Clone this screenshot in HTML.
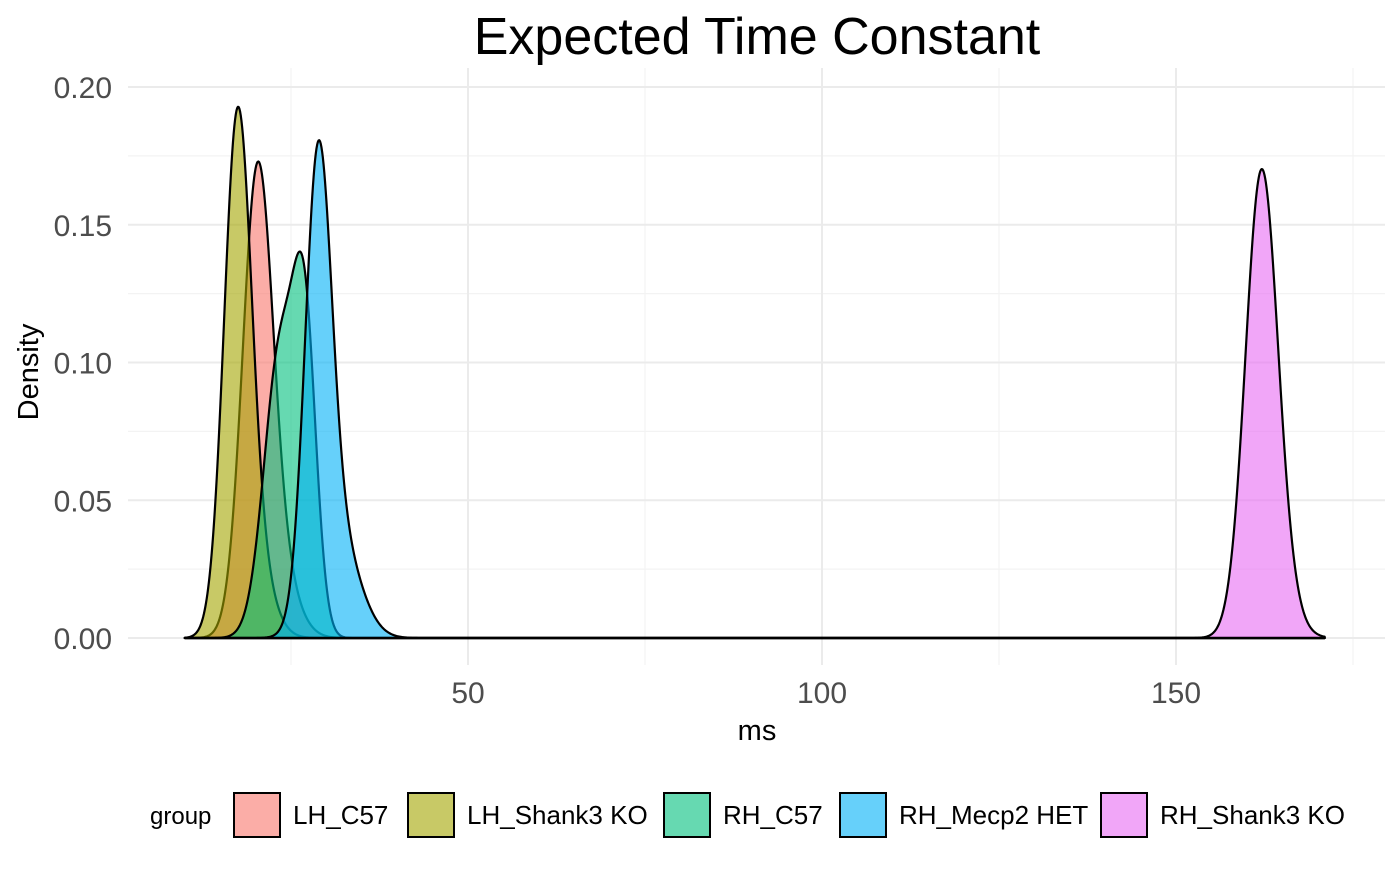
<!DOCTYPE html>
<html><head><meta charset="utf-8"><style>
body{margin:0;background:#fff;font-family:"Liberation Sans",Arial,sans-serif}
</style></head><body>
<svg id="c" width="1400" height="865" xmlns="http://www.w3.org/2000/svg" font-family="Liberation Sans, Arial, sans-serif">
<text x="757" y="54" font-size="52" text-anchor="middle">Expected Time Constant</text>
<g id="grid"></g><g id="marks"></g><g id="axes"></g><g id="legend"></g>
<text x="757" y="740" font-size="29" text-anchor="middle">ms</text>
<text transform="translate(38,372) rotate(-90)" font-size="29" text-anchor="middle">Density</text>
</svg>
<script>
const groups=["LH_C57","LH_Shank3 KO","RH_C57","RH_Mecp2 HET","RH_Shank3 KO"];
const colors=["#F8766D","#A3A500","#00BF7D","#00B0F6","#E76BF3"];
// mixture components per group: means, sds, weights
const means=[[20.2,22.5],[17.4,19.5],[27.0,23.5],[28.8,31.5],[162.0,163.5]];
const sds=[[2.1,2.75],[1.9,2.5],[1.6,2.3],[1.85,3.0],[2.25,2.65]];
const weights=[[0.8,0.2],[0.82,0.18],[0.4,0.6],[0.72,0.28],[0.85,0.15]];
const xTicks=[50,100,150];
const yTicks=[0,0.05,0.10,0.15,0.20];
const yLabels=["0.00","0.05","0.10","0.15","0.20"];
const xMin=10,xMax=171;
const NS="http://www.w3.org/2000/svg";
const X=v=>114+7.08*v, Y=d=>638-2755*d;
function mk(p,t,a){const e=document.createElementNS(NS,t);for(const k in a)e.setAttribute(k,a[k]);p.appendChild(e);return e;}
const grid=document.getElementById('grid'),marks=document.getElementById('marks'),axes=document.getElementById('axes'),leg=document.getElementById('legend');
for(const v of [25,75,125,175]){const l=mk(grid,'line',{x1:X(v),x2:X(v),y1:68,y2:665,stroke:'#f3f3f3','stroke-width':1.2});

}
for(let i=0;i<yTicks.length-1;i++){const v=(yTicks[i]+yTicks[i+1])/2;const l=mk(grid,'line',{x1:128,x2:1385,y1:Y(v),y2:Y(v),stroke:'#f3f3f3','stroke-width':1.2});

}
xTicks.forEach(v=>{const l=mk(grid,'line',{x1:X(v),x2:X(v),y1:68,y2:665,stroke:'#ebebeb','stroke-width':2});


const t=mk(axes,'text',{x:X(v),y:703,'font-size':30,fill:'#4d4d4d','text-anchor':'middle'});t.textContent=v;

});
yTicks.forEach((v,i)=>{const l=mk(grid,'line',{x1:128,x2:1385,y1:Y(v),y2:Y(v),stroke:'#ebebeb','stroke-width':2});


const t=mk(axes,'text',{x:112,y:Y(v)+11,'font-size':30,fill:'#4d4d4d','text-anchor':'end'});t.textContent=yLabels[i];

});
function dens(g,x){let s=0;for(let j=0;j<means[g].length;j++){const z=(x-means[g][j])/sds[g][j];s+=weights[g][j]*Math.exp(-0.5*z*z)/(sds[g][j]*Math.sqrt(2*Math.PI));}return s;}
groups.forEach((g,gi)=>{let d='M'+X(xMin)+','+Y(0);
for(let x=xMin;x<=xMax+1e-9;x+=0.1){d+=' L'+X(x).toFixed(2)+','+Y(dens(gi,x)).toFixed(2);}
d+=' L'+X(xMax)+','+Y(0)+' Z';
const p=mk(marks,'path',{d:d,fill:colors[gi],'fill-opacity':0.6,stroke:'#000','stroke-width':2.2,'stroke-linejoin':'round'});

});
const gt=mk(leg,'text',{x:150,y:824,'font-size':24});gt.textContent='group';


const keyX=[233,407,663,839,1100];
groups.forEach((g,gi)=>{const r=mk(leg,'rect',{x:keyX[gi]+1,y:793,width:46,height:44,fill:colors[gi],'fill-opacity':0.6,stroke:'#000','stroke-width':2});


const t=mk(leg,'text',{x:keyX[gi]+60,y:824,'font-size':26});t.textContent=g;

});
</script>
</body></html>
